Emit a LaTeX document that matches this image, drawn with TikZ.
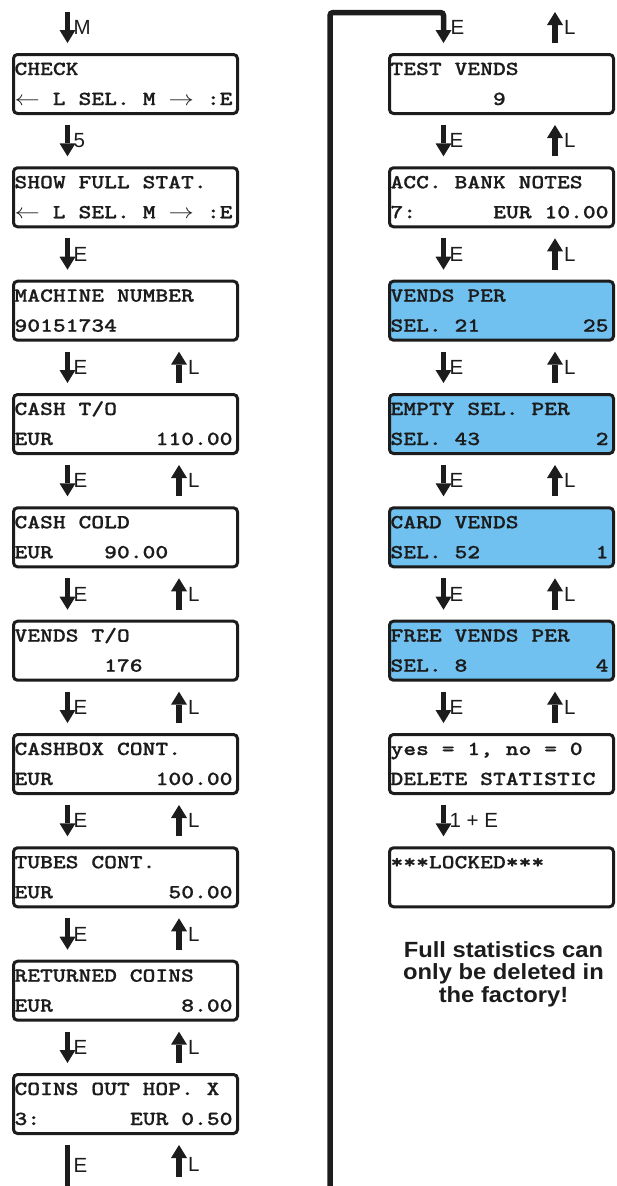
\documentclass[tikz,border=0pt]{standalone}
\usepackage{fontspec}
\usetikzlibrary{arrows.meta}
\newfontfamily\keyfont{Liberation Sans}
\IfFontExistsTF{lmmonolt10-bold.otf}
  {\newfontfamily\lcdfont{lmmonolt10-bold.otf}[FakeBold=0.6]}
  {\newfontfamily\lcdfont{Latin Modern Mono}[FakeBold=2.5]}
\definecolor{ink}{RGB}{28,28,28}
\definecolor{lcdblue}{RGB}{112,193,240}

% one display line: left part, right part, set in a widened monospace cell grid
\newcommand\lcdrow[2]{\scalebox{1.22}[1]{\makebox[178.7pt][s]{#1\hfill#2}}}
\newcommand\blank[1]{\phantom{#1}}
\newcommand\selkeys{$\leftarrow$\hfill L\hfill SEL.\hfill M\hfill$\rightarrow$}

% a two-line display: name, left, top, extra style, {line 1 parts}, {line 2 parts}
\newcommand\screen[6]{%
  \node[lcdbox,#4,anchor=north west] (#1) at (#2,#3) {};
  \node[lcdtext,anchor=base west] (#1-a) at ([shift={(1,20.5)}]#1.north west) {\lcdrow#5};
  \node[lcdtext,anchor=base west] (#1-b) at ([shift={(1,50.5)}]#1.north west) {\lcdrow#6};
}

\tikzset{
  lcdbox/.style={draw=ink, line width=3pt, rounded corners=4pt, fill=white,
    minimum width=224pt, minimum height=59pt, inner sep=0pt, outer sep=0pt},
  lcdblue/.style={fill=lcdblue},
  lcdtext/.style={inner sep=0pt, outer sep=0pt, text=ink,
    font=\lcdfont\fontsize{20}{20}\selectfont},
  keylabel/.style={inner sep=0pt, outer sep=0pt, text=ink,
    font=\keyfont\fontsize{20.5}{20.5}\selectfont},
  keyline/.style={draw=ink, line width=5.5pt},
  keyarrow/.style={keyline, -{Triangle[length=13pt,width=16pt,line width=0pt]}},
  looparrow/.style={keyarrow, rounded corners=3pt},
  notefont/.style={inner sep=0pt, text=ink,
    font=\keyfont\bfseries\fontsize{22}{22.5}\selectfont},
}

\begin{document}
\begin{tikzpicture}[x=1pt,y=-1pt]
\useasboundingbox (0,0) rectangle (616,1186);

% left column of displays
\screen{L0}{13.5}{54.5}{}{{CHECK}{}}{{\selkeys}{:E}}
\screen{L1}{13.5}{167.8}{}{{SHOW FULL STAT.}{}}{{\selkeys}{:E}}
\screen{L2}{13.5}{281.2}{}{{MACHINE NUMBER}{}}{{90151734}{}}
\screen{L3}{13.5}{394.5}{}{{CASH T/O}{}}{{EUR}{110.00}}
\screen{L4}{13.5}{507.8}{}{{CASH COLD}{}}{{EUR\blank{0000}90.00}{}}
\screen{L5}{13.5}{621.2}{}{{VENDS T/O}{}}{{\blank{0000000}176}{}}
\screen{L6}{13.5}{734.5}{}{{CASHBOX CONT.}{}}{{EUR}{100.00}}
\screen{L7}{13.5}{847.8}{}{{TUBES CONT.}{}}{{EUR}{50.00}}
\screen{L8}{13.5}{961.2}{}{{RETURNED COINS}{}}{{EUR}{8.00}}
\screen{L9}{13.5}{1074.5}{}{{COINS OUT HOP. X}{}}{{3:}{EUR 0.50}}

% right column of displays
\screen{R0}{389.5}{54.5}{}{{TEST VENDS}{}}{{\blank{00000000}9}{}}
\screen{R1}{389.5}{167.8}{}{{ACC. BANK NOTES}{}}{{7:}{EUR 10.00}}
\screen{R2}{389.5}{281.2}{lcdblue}{{VENDS PER}{}}{{SEL. 21}{25}}
\screen{R3}{389.5}{394.5}{lcdblue}{{EMPTY SEL. PER}{}}{{SEL. 43}{2}}
\screen{R4}{389.5}{507.8}{lcdblue}{{CARD VENDS}{}}{{SEL. 52}{1}}
\screen{R5}{389.5}{621.2}{lcdblue}{{FREE VENDS PER}{}}{{SEL. 8}{4}}
\screen{R6}{389.5}{734.5}{}{{yes = 1, no = 0}{}}{{DELETE STATISTIC}{}}
\screen{R7}{389.5}{847.8}{}{{***LOCKED***}{}}{{}{}}

% entry key into the menu
\coordinate (menuin) at (67.5,12);
\draw[keyarrow] (menuin) -- node[keylabel,anchor=west,xshift=6pt] (kM) {M}
  ([shift={(54,-11.5)}]L0.north west);

% forward (E) steps
\foreach \a/\b/\k in {L0/L1/5, L1/L2/E, L2/L3/E, L3/L4/E, L4/L5/E, L5/L6/E,
    L6/L7/E, L7/L8/E, L8/L9/E, R0/R1/E, R1/R2/E, R2/R3/E, R3/R4/E, R4/R5/E,
    R5/R6/E, R6/R7/1 + E}
  \draw[keyarrow] ([shift={(54,11.5)}]\a.south west) --
    node[keylabel,anchor=west,xshift=6pt] (k-\a-\b) {\k}
    ([shift={(54,-11.5)}]\b.north west);

% backward (L) steps
\foreach \a/\b in {L2/L3, L3/L4, L4/L5, L5/L6, L6/L7, L7/L8, L8/L9,
    R0/R1, R1/R2, R2/R3, R3/R4, R4/R5, R5/R6}
  \draw[keyarrow] ([shift={(165.5,-11.5)}]\b.north west) --
    node[keylabel,anchor=west,xshift=9pt] (b-\b-\a) {L}
    ([shift={(165.5,11.5)}]\a.south west);

% leaving the left column at the bottom and the return key there
\coordinate (exitfoot) at (67.5,1186);
\draw[keyline] ([shift={(54,11.5)}]L9.south west) --
  node[keylabel,anchor=west,xshift=6pt] (kout) {E} (exitfoot);
\coordinate (retfoot) at (179,1177);
\draw[keyarrow] (retfoot) --
  node[keylabel,anchor=west,xshift=9pt,yshift=-3pt] (kback) {L}
  ([shift={(165.5,11.5)}]L9.south west);

% continuation line up into the right column
\coordinate (loopfoot) at (330,1186);
\coordinate (looptop) at (443.5,12.5);
\draw[looparrow] (loopfoot) |- (looptop) --
  node[keylabel,anchor=west,xshift=7pt] (kin) {E}
  ([shift={(54,-11.5)}]R0.north west);
\coordinate (rettop) at (555,12);
\draw[keyarrow] ([shift={(165.5,-11.5)}]R0.north west) --
  node[keylabel,anchor=west,xshift=9pt] (kup) {L} (rettop);

% closing remark
\node[notefont,anchor=base] (note) at (503.5,957)
  {\scalebox{1.08}[1]{\begin{tabular}[t]{@{}c@{}}Full statistics can\\only be deleted in\\the factory!\end{tabular}}};
\end{tikzpicture}
\end{document}
